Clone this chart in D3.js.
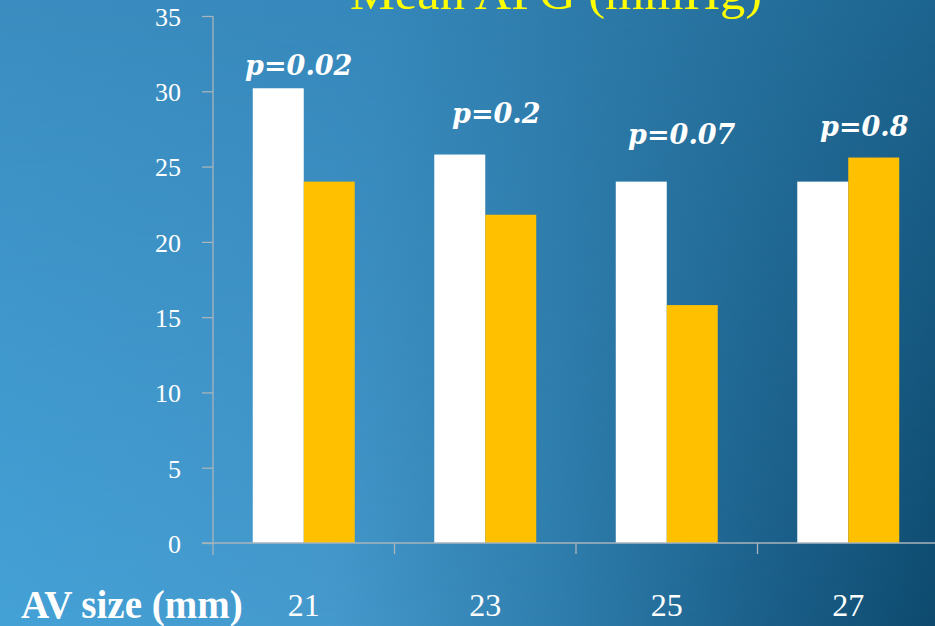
<!DOCTYPE html>
<html>
<head>
<meta charset="utf-8">
<script src="https://cdn.jsdelivr.net/npm/d3@7"></script>
<style>
  html, body { margin: 0; padding: 0; background: #2a78a8; }
  svg { display: block; }
</style>
</head>
<body>
<svg id="chart" width="935" height="626"></svg>
<script>
// Mean aortic pressure gradient by valve size, two groups
const categories = ["21", "23", "25", "27"];
const seriesNames = ["groupA", "groupB"];
const groupA = [30.2, 25.8, 24.0, 24.0];
const groupB = [24.0, 21.8, 15.8, 25.6];
const yTicks = [0, 5, 10, 15, 20, 25, 30, 35];
const pValues = ["p=0.02", "p=0.2", "p=0.07", "p=0.8"];
const pLabelAt = [31.1, 27.9, 26.5, 27.0];   // label baseline, in axis units

const W = 935, H = 626;
const svg = d3.select("#chart");
const defs = svg.append("defs");

// Background: bilinear blend of a top and a bottom horizontal gradient
function hGrad(id, stops) {
  const g = defs.append("linearGradient").attr("id", id)
    .attr("x1", 0).attr("y1", 0).attr("x2", 1).attr("y2", 0);
  stops.forEach(([o, c]) => g.append("stop").attr("offset", o).attr("stop-color", c));
}
hGrad("bgTop", [[0, "#3b8dc0"], [0.4, "#3688bb"], [0.7, "#2a76a4"], [1, "#1d6590"]]);
hGrad("bgBot", [[0, "#44a1d6"], [0.35, "#4599cc"], [0.6, "#2e7dac"], [0.8, "#1c618c"], [1, "#0e4a6e"]]);
const vg = defs.append("linearGradient").attr("id", "vFade")
  .attr("x1", 0).attr("y1", 0).attr("x2", 0).attr("y2", 1);
vg.append("stop").attr("offset", 0).attr("stop-color", "#000");
vg.append("stop").attr("offset", 1).attr("stop-color", "#fff");
defs.append("mask").attr("id", "fadeMask")
  .attr("maskUnits", "userSpaceOnUse").attr("x", 0).attr("y", 0).attr("width", W).attr("height", H)
  .append("rect").attr("width", W).attr("height", H).attr("fill", "url(#vFade)");

svg.append("rect").attr("width", W).attr("height", H).attr("fill", "url(#bgTop)");
svg.append("rect").attr("width", W).attr("height", H).attr("fill", "url(#bgBot)")
  .attr("mask", "url(#fadeMask)");

// Scales
const x0 = d3.scaleBand().domain(categories).range([213, 939]).padding(0);
const x1 = d3.scaleBand().domain(seriesNames).range([0, x0.bandwidth()])
  .paddingInner(0).paddingOuter(0.78);
const y = d3.scaleLinear().domain([0, 35]).range([543, 16]);
const colors = { groupA: "#ffffff", groupB: "#ffc000" };

const axisColor = "#a9b4bd";

// Bars
const rows = categories.map((c, i) => ({ cat: c, groupA: groupA[i], groupB: groupB[i] }));
const groups = svg.append("g").selectAll("g").data(rows).join("g")
  .attr("transform", d => `translate(${x0(d.cat)},0)`);
groups.selectAll("rect")
  .data(d => seriesNames.map(s => ({ s, v: d[s] })))
  .join("rect")
  .attr("x", d => x1(d.s))
  .attr("width", x1.bandwidth())
  .attr("y", d => y(d.v))
  .attr("height", d => y(0) - y(d.v))
  .attr("fill", d => colors[d.s]);

// Y axis
const yAxis = d3.axisLeft(y).tickValues(yTicks).tickSize(11).tickPadding(21)
  .tickFormat(d3.format("d"));
const gy = svg.append("g").attr("transform", "translate(213,0)").call(yAxis);
gy.select(".domain").remove();
gy.append("line").attr("x1", 0).attr("x2", 0).attr("y1", y(35)).attr("y2", y(0) + 12)
  .attr("stroke", axisColor).attr("stroke-width", 1.3);
gy.selectAll(".tick line").attr("stroke", axisColor).attr("stroke-width", 1.3);
gy.selectAll(".tick text")
  .attr("fill", "#ffffff")
  .attr("font-family", "'Liberation Serif', serif")
  .attr("font-size", 26)
  .attr("dy", "0.36em");

// X axis: category boundary ticks below the baseline
const gx = svg.append("g");
gx.append("line").attr("x1", 202).attr("x2", W).attr("y1", y(0)).attr("y2", y(0))
  .attr("stroke", axisColor).attr("stroke-width", 1.3);
gx.selectAll("line.tk").data(categories.slice(1)).join("line").attr("class", "tk")
  .attr("x1", d => x0(d)).attr("x2", d => x0(d))
  .attr("y1", y(0)).attr("y2", y(0) + 11)
  .attr("stroke", axisColor).attr("stroke-width", 1.3);

// Category labels
svg.append("g").selectAll("text").data(categories).join("text")
  .attr("x", d => x0(d) + x0.bandwidth() / 2)
  .attr("y", 616)
  .attr("text-anchor", "middle")
  .attr("fill", "#ffffff")
  .attr("font-family", "'Liberation Serif', serif")
  .attr("font-size", 32)
  .text(d => d);

// Axis title
svg.append("text")
  .attr("x", 21).attr("y", 618)
  .attr("fill", "#ffffff")
  .attr("font-family", "'Liberation Serif', serif")
  .attr("font-weight", "bold")
  .attr("font-size", 39)
  .text("AV size (mm)");

// Chart title
svg.append("text")
  .attr("x", 556).attr("y", 9)
  .attr("text-anchor", "middle")
  .attr("fill", "#ffff00")
  .attr("font-family", "'Liberation Serif', serif")
  .attr("font-size", 46)
  .attr("textLength", 412)
  .attr("lengthAdjust", "spacingAndGlyphs")
  .text("Mean APG (mmHg)");

// p-value annotations
const pShift = [-5, 11, 15, 16];
svg.append("g").selectAll("text").data(pValues).join("text")
  .attr("x", (d, i) => x0(categories[i]) + x0.bandwidth() / 2 + pShift[i])
  .attr("y", (d, i) => y(pLabelAt[i]))
  .attr("text-anchor", "middle")
  .attr("fill", "#ffffff")
  .attr("font-family", "'DejaVu Serif', serif")
  .attr("font-weight", "bold")
  .attr("font-style", "italic")
  .attr("font-size", 27)
  .text(d => d);
</script>
</body>
</html>
